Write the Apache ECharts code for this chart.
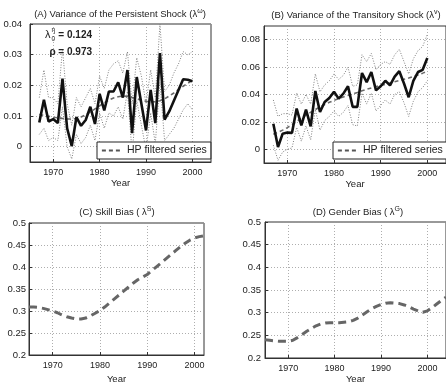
<!DOCTYPE html>
<html><head><meta charset="utf-8">
<script src="https://cdn.jsdelivr.net/npm/echarts@6/dist/echarts.min.js"></script>
<style>html,body{margin:0;padding:0;background:#fff}#c{width:446px;height:385px}</style>
</head><body><div id="c"></div>
<script>
// ---------- data ----------
const yearsAB = [1967,1968,1969,1970,1971,1972,1973,1974,1975,1976,1977,1978,1979,1980,1981,1982,1983,1984,1985,1986,1987,1988,1989,1990,1991,1992,1993,1994,1995,1996,1997,1998,1999,2000];
const persistent = [0.0079,0.0153,0.0082,0.0090,0.0077,0.0222,0.0060,0.0002,0.0096,0.0068,0.0087,0.0130,0.0074,0.0172,0.0118,0.0180,0.0180,0.0210,0.0160,0.0250,0.0044,0.0227,0.0140,0.0053,0.0185,0.0077,0.0305,0.0088,0.0115,0.0150,0.0185,0.0220,0.0218,0.0213];
const persistentUpper = [0.016,0.025,0.016,0.016,0.014,0.032,0.014,0.007,0.016,0.013,0.016,0.019,0.014,0.023,0.019,0.025,0.027,0.028,0.024,0.031,0.014,0.029,0.023,0.014,0.025,0.016,0.040,0.018,0.020,0.024,0.027,0.031,0.030,0.031];
const persistentLower = [0.004,0.006,0.002,0.003,0.002,0.013,0.000,-0.004,0.004,0.001,0.003,0.007,0.002,0.011,0.006,0.011,0.010,0.013,0.009,0.018,-0.002,0.015,0.007,-0.001,0.011,0.001,0.021,0.002,0.004,0.006,0.009,0.012,0.014,0.012];
const persistentHP = [0.0105,0.0102,0.0099,0.0096,0.0094,0.0092,0.0090,0.0090,0.0092,0.0097,0.0104,0.0113,0.0123,0.0133,0.0143,0.0152,0.0159,0.0163,0.0165,0.0164,0.0160,0.0156,0.0152,0.0148,0.0146,0.0147,0.0150,0.0156,0.0165,0.0175,0.0186,0.0197,0.0207,0.0216];

const transitory = [0.0187,0.0017,0.0114,0.0122,0.0120,0.0297,0.0175,0.0290,0.0168,0.0426,0.0272,0.0345,0.0375,0.0420,0.0370,0.0406,0.0460,0.0310,0.0310,0.0557,0.0490,0.0564,0.0430,0.0460,0.0500,0.0467,0.0530,0.0570,0.0480,0.0380,0.0500,0.0564,0.0580,0.0667];
const transitoryUpper = [0.036,0.024,0.026,0.026,0.025,0.041,0.033,0.040,0.033,0.055,0.042,0.047,0.050,0.055,0.051,0.054,0.060,0.046,0.047,0.069,0.064,0.070,0.058,0.062,0.064,0.062,0.069,0.073,0.064,0.055,0.066,0.072,0.075,0.084];
const transitoryLower = [0.003,-0.008,-0.002,0.000,0.001,0.016,0.006,0.017,0.007,0.029,0.014,0.021,0.024,0.028,0.024,0.027,0.032,0.018,0.017,0.041,0.033,0.041,0.028,0.032,0.036,0.033,0.040,0.042,0.034,0.024,0.035,0.042,0.045,0.050];
const transitoryHP = [0.0110,0.0125,0.0140,0.0158,0.0180,0.0203,0.0226,0.0249,0.0270,0.0290,0.0310,0.0327,0.0343,0.0357,0.0370,0.0382,0.0393,0.0404,0.0415,0.0427,0.0438,0.0448,0.0457,0.0466,0.0475,0.0484,0.0493,0.0502,0.0511,0.0520,0.0531,0.0543,0.0556,0.0570];

const yearsC = [1965,1966,1967,1968,1969,1970,1971,1972,1973,1974,1975,1976,1977,1978,1979,1980,1981,1982,1983,1984,1985,1986,1987,1988,1989,1990,1991,1992,1993,1994,1995,1996,1997,1998,1999,2000,2001,2002];
const skillBias = [0.309,0.309,0.308,0.306,0.303,0.300,0.296,0.291,0.287,0.284,0.282,0.282,0.284,0.289,0.295,0.301,0.309,0.318,0.327,0.336,0.345,0.354,0.363,0.371,0.377,0.383,0.392,0.401,0.410,0.419,0.428,0.437,0.446,0.454,0.461,0.466,0.469,0.471];

const yearsD = [1965,1966,1967,1968,1969,1970,1971,1972,1973,1974,1975,1976,1977,1978,1979,1980,1981,1982,1983,1984,1985,1986,1987,1988,1989,1990,1991,1992,1993,1994,1995,1996,1997,1998,1999,2000,2001,2002,2003,2004];
const genderBias = [0.240,0.239,0.238,0.237,0.237,0.237,0.239,0.245,0.252,0.259,0.265,0.271,0.275,0.277,0.278,0.278,0.278,0.279,0.280,0.283,0.288,0.295,0.302,0.309,0.314,0.318,0.321,0.322,0.321,0.320,0.317,0.313,0.308,0.304,0.301,0.304,0.311,0.319,0.327,0.334];

const xTicks = [1970,1980,1990,2000];
const yTicksA = [0,0.01,0.02,0.03,0.04];
const yTicksB = [0,0.02,0.04,0.06,0.08];
const yTicksCD = [0.2,0.25,0.3,0.35,0.4,0.45,0.5];

// ---------- chart ----------
const FONT = "'Liberation Sans', Arial, sans-serif";
const TXT = '#222';
const pair = (xs, ys) => xs.map((x, i) => [x, ys[i]]);

function xAxis(gi, min, max, nameGap) {
  return {
    type: 'value', gridIndex: gi, min: min, max: max,
    axisLine: { show: true, onZero: false, lineStyle: { color: '#333', width: 1 } },
    axisTick: { show: true, inside: true, length: 3, customValues: xTicks, lineStyle: { color: '#333' } },
    axisLabel: { customValues: xTicks, fontSize: 9, color: TXT, fontFamily: FONT, margin: 6,
                 formatter: v => String(v) },
    splitLine: { show: true, lineStyle: { type: [1, 2], color: '#999', width: 0.8 } },
    name: 'Year', nameLocation: 'middle', nameGap: nameGap,
    nameTextStyle: { fontSize: 9.5, color: TXT, fontFamily: FONT }
  };
}
function yAxis(gi, min, max, ticks, margin) {
  return {
    type: 'value', gridIndex: gi, min: min, max: max,
    axisLine: { show: true, onZero: false, lineStyle: { color: '#333', width: 1 } },
    axisTick: { show: true, inside: true, length: 3, customValues: ticks, lineStyle: { color: '#333' } },
    axisLabel: { customValues: ticks, fontSize: 9.5, color: TXT, fontFamily: FONT, margin: margin,
                 formatter: v => String(v) },
    splitLine: { show: true, lineStyle: { type: [1, 2], color: '#999', width: 0.8 } }
  };
}
const band = (xi, data) => ({
  type: 'line', xAxisIndex: xi, yAxisIndex: xi, data: data, symbol: 'none', silent: true,
  lineStyle: { color: '#808080', width: 1, type: [1, 1.6] }, z: 2
});
const hp = (xi, data) => ({
  name: 'HP filtered series', type: 'line', xAxisIndex: xi, yAxisIndex: xi, data: data,
  symbol: 'none', silent: true, lineStyle: { color: '#6a6a6a', width: 1.6, type: [4, 3] },
  itemStyle: { color: '#6a6a6a' }, z: 3
});
const main = (xi, data) => ({
  type: 'line', xAxisIndex: xi, yAxisIndex: xi, data: data, symbol: 'none', silent: true,
  lineStyle: { color: '#111', width: 2.6 }, z: 4
});
const trend = (xi, data) => ({
  type: 'line', xAxisIndex: xi, yAxisIndex: xi, data: data, symbol: 'none', silent: true,
  lineStyle: { color: '#666', width: 3, type: [8, 5] }, z: 3
});
const legendBox = (left) => ({
  data: ['HP filtered series'], left: left, top: 142, orient: 'horizontal',
  padding: [3, 4, 3, 4], borderColor: '#222', borderWidth: 1, borderRadius: 0,
  backgroundColor: '#fff', itemWidth: 20, itemHeight: 10, itemGap: 4, selectedMode: false,
  itemStyle: { opacity: 0 },
  lineStyle: { color: '#555', width: 1.8, type: [4, 3] },
  textStyle: { fontSize: 10.5, color: TXT, fontFamily: FONT }, z: 6
});
const titleText = (x, y, text) => ({
  type: 'text', x: x, y: y, z: 10,
  style: { text: text, align: 'center', verticalAlign: 'middle', fontSize: 9.5, fontFamily: FONT, fill: TXT,
    rich: { sup: { fontSize: 7, fontFamily: FONT, fill: TXT, verticalAlign: 'top', lineHeight: 12 },
            n: { fontSize: 9.5, fontFamily: FONT, fill: TXT, lineHeight: 12 } } }
});

const chart = echarts.init(document.getElementById('c'), null, { renderer: 'canvas' });
chart.setOption({
  backgroundColor: '#fff',
  animation: false,
  grid: [
    { left: 30, top: 24, width: 181, height: 138, show: true, borderColor: '#333', borderWidth: 1, backgroundColor: 'transparent' },
    { left: 264, top: 26, width: 185, height: 137, show: true, borderColor: '#333', borderWidth: 1, backgroundColor: 'transparent' },
    { left: 29, top: 223, width: 175, height: 140, show: true, borderColor: '#333', borderWidth: 1, backgroundColor: 'transparent' },
    { left: 265, top: 222, width: 184, height: 141, show: true, borderColor: '#333', borderWidth: 1, backgroundColor: 'transparent' }
  ],
  xAxis: [ xAxis(0, 1965, 2004, 15), xAxis(1, 1965, 2004, 14), xAxis(2, 1965, 2002, 19), xAxis(3, 1965, 2004, 16) ],
  yAxis: [ yAxis(0, -0.005, 0.04, yTicksA, 8), yAxis(1, -0.01, 0.09, yTicksB, 4),
           yAxis(2, 0.2, 0.5, yTicksCD, 3), yAxis(3, 0.2, 0.5, yTicksCD, 4) ],
  legend: [ legendBox(97), legendBox(333) ],
  series: [
    band(0, pair(yearsAB, persistentUpper)), band(0, pair(yearsAB, persistentLower)),
    hp(0, pair(yearsAB, persistentHP)), main(0, pair(yearsAB, persistent)),
    band(1, pair(yearsAB, transitoryUpper)), band(1, pair(yearsAB, transitoryLower)),
    hp(1, pair(yearsAB, transitoryHP)), main(1, pair(yearsAB, transitory)),
    trend(2, pair(yearsC, skillBias)),
    trend(3, pair(yearsD, genderBias))
  ],
  graphic: [
    titleText(120, 14, '{n|(A) Variance of the Persistent Shock (λ}{sup|ω}{n|)}'),
    titleText(356, 15, '{n|(B) Variance of the Transitory Shock (λ}{sup|v}{n|)}'),
    titleText(117, 212, '{n|(C) Skill Bias ( λ}{sup|S}{n|)}'),
    titleText(358, 212, '{n|(D) Gender Bias ( λ}{sup|G}{n|)}'),
    { type: 'text', x: 45, y: 35, z: 10, style: { text: 'λ', fontSize: 11, fontFamily: FONT, fill: TXT, verticalAlign: 'middle' } },
    { type: 'text', x: 51.5, y: 30, z: 10, style: { text: 'η', fontSize: 6.5, fontFamily: FONT, fill: TXT, verticalAlign: 'middle' } },
    { type: 'text', x: 51.5, y: 39.5, z: 10, style: { text: '0', fontSize: 6.5, fontFamily: FONT, fill: TXT, verticalAlign: 'middle' } },
    { type: 'text', x: 92, y: 35, z: 10, style: { text: '= 0.124', fontSize: 10, fontWeight: 'bold', fontFamily: FONT, fill: TXT, align: 'right', verticalAlign: 'middle' } },
    { type: 'text', x: 92, y: 52, z: 10, style: { text: 'ρ = 0.973', fontSize: 10, fontWeight: 'bold', fontFamily: FONT, fill: TXT, align: 'right', verticalAlign: 'middle' } }
  ]
});
</script>
</body></html>
